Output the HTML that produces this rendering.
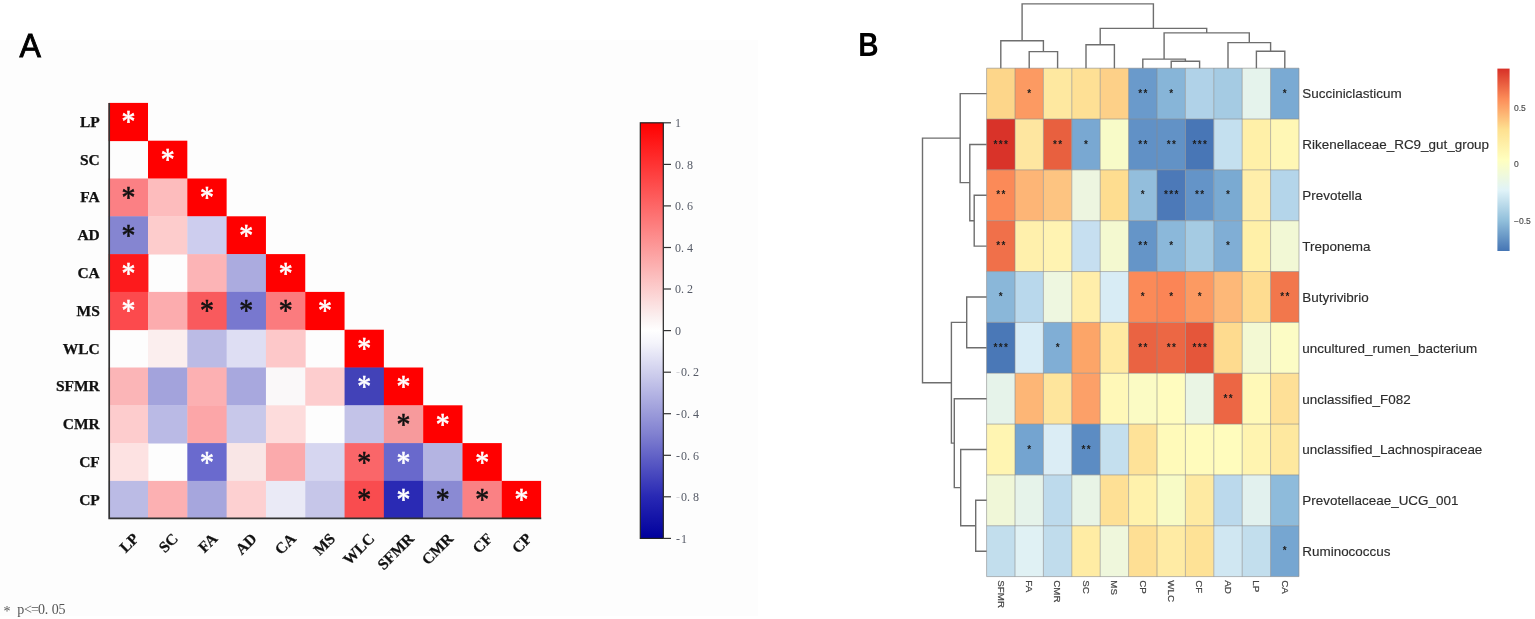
<!DOCTYPE html>
<html lang="en"><head><meta charset="utf-8"><title>Correlation heatmaps</title>
<style>
html,body{margin:0;padding:0;background:#fff;}
body{width:1535px;height:619px;overflow:hidden;}
svg{display:block;filter:blur(0.45px);}
text{font-family:"Liberation Sans",sans-serif;}
.astar text{font-family:"Liberation Serif",serif;font-size:27px;text-anchor:middle;stroke-width:0.5px;}
.albl text{font-family:"Liberation Serif",serif;font-weight:bold;font-size:15.5px;fill:#111;stroke:#111;stroke-width:0.25px;}
.cbat text{font-family:"Liberation Serif",serif;font-size:12px;fill:#555a66;}
.foot{font-family:"Liberation Serif",serif;font-size:14px;fill:#555;}
.pa{font-family:"Liberation Sans",sans-serif;font-size:33.4px;fill:#000;stroke:#000;stroke-width:0.9px;}
.pb{font-family:"Liberation Sans",sans-serif;font-size:33.6px;font-weight:bold;fill:#000;}
.bstar text{font-family:"Liberation Sans",sans-serif;font-size:10px;font-weight:bold;letter-spacing:1.36px;fill:#1c1c1c;}
.brow text{font-size:13.45px;fill:#2c2c2c;stroke:#2c2c2c;stroke-width:0.15px;}
.bcol text{font-size:9.8px;fill:#444;stroke:#444;stroke-width:0.2px;}
.cbbt text{font-size:8.5px;fill:#4a4a4a;stroke:#4a4a4a;stroke-width:0.15px;}
</style></head>
<body>
<svg width="1535" height="619" viewBox="0 0 1535 619">
<rect x="0" y="40" width="758" height="576" fill="#fdfdfd"/>
<g>
<rect x="108.70" y="102.90" width="39.31" height="38.20" fill="#ff0000"/>
<rect x="148.01" y="140.70" width="39.31" height="38.20" fill="#ff0000"/>
<rect x="108.70" y="178.50" width="39.71" height="38.20" fill="#fb8084"/>
<rect x="148.01" y="178.50" width="39.71" height="38.20" fill="#fdbcbd"/>
<rect x="187.32" y="178.50" width="39.31" height="38.20" fill="#ff0000"/>
<rect x="108.70" y="216.30" width="39.71" height="38.20" fill="#8585d1"/>
<rect x="148.01" y="216.30" width="39.71" height="38.20" fill="#fdcccc"/>
<rect x="187.32" y="216.30" width="39.71" height="38.20" fill="#cdcdee"/>
<rect x="226.63" y="216.30" width="39.31" height="38.20" fill="#ff0000"/>
<rect x="108.70" y="254.10" width="39.71" height="38.20" fill="#fd1a1c"/>
<rect x="187.32" y="254.10" width="39.71" height="38.20" fill="#fcb4b6"/>
<rect x="226.63" y="254.10" width="39.71" height="38.20" fill="#ababdf"/>
<rect x="265.94" y="254.10" width="39.31" height="38.20" fill="#ff0000"/>
<rect x="108.70" y="291.90" width="39.71" height="38.20" fill="#fc4a4d"/>
<rect x="148.01" y="291.90" width="39.71" height="38.20" fill="#fcacae"/>
<rect x="187.32" y="291.90" width="39.71" height="38.20" fill="#f95a5d"/>
<rect x="226.63" y="291.90" width="39.71" height="38.20" fill="#7878cf"/>
<rect x="265.94" y="291.90" width="39.71" height="38.20" fill="#fb7b7e"/>
<rect x="305.25" y="291.90" width="39.31" height="38.20" fill="#ff0000"/>
<rect x="148.01" y="329.70" width="39.71" height="38.20" fill="#fbeeee"/>
<rect x="187.32" y="329.70" width="39.71" height="38.20" fill="#bbbbe5"/>
<rect x="226.63" y="329.70" width="39.71" height="38.20" fill="#dedef3"/>
<rect x="265.94" y="329.70" width="39.71" height="38.20" fill="#fdc8c9"/>
<rect x="344.56" y="329.70" width="39.31" height="38.20" fill="#ff0000"/>
<rect x="108.70" y="367.50" width="39.71" height="38.20" fill="#fbb5b7"/>
<rect x="148.01" y="367.50" width="39.71" height="38.20" fill="#a3a3dc"/>
<rect x="187.32" y="367.50" width="39.71" height="38.20" fill="#fcb0b2"/>
<rect x="226.63" y="367.50" width="39.71" height="38.20" fill="#a8a8de"/>
<rect x="265.94" y="367.50" width="39.71" height="38.20" fill="#faf8f9"/>
<rect x="305.25" y="367.50" width="39.71" height="38.20" fill="#fdcdce"/>
<rect x="344.56" y="367.50" width="39.71" height="38.20" fill="#4242b8"/>
<rect x="383.87" y="367.50" width="39.31" height="38.20" fill="#ff0000"/>
<rect x="108.70" y="405.30" width="39.71" height="38.20" fill="#fdcccd"/>
<rect x="148.01" y="405.30" width="39.71" height="38.20" fill="#babae5"/>
<rect x="187.32" y="405.30" width="39.71" height="38.20" fill="#fca6a8"/>
<rect x="226.63" y="405.30" width="39.71" height="38.20" fill="#c8c8ea"/>
<rect x="265.94" y="405.30" width="39.71" height="38.20" fill="#fddcdc"/>
<rect x="344.56" y="405.30" width="39.71" height="38.20" fill="#c3c3e8"/>
<rect x="383.87" y="405.30" width="39.71" height="38.20" fill="#f79a9c"/>
<rect x="423.18" y="405.30" width="39.31" height="38.20" fill="#ff0000"/>
<rect x="108.70" y="443.10" width="39.71" height="38.20" fill="#fde2e2"/>
<rect x="187.32" y="443.10" width="39.71" height="38.20" fill="#6a6ace"/>
<rect x="226.63" y="443.10" width="39.71" height="38.20" fill="#f9e6e6"/>
<rect x="265.94" y="443.10" width="39.71" height="38.20" fill="#fbaaac"/>
<rect x="305.25" y="443.10" width="39.71" height="38.20" fill="#d6d6f0"/>
<rect x="344.56" y="443.10" width="39.71" height="38.20" fill="#fa6669"/>
<rect x="383.87" y="443.10" width="39.71" height="38.20" fill="#6969cc"/>
<rect x="423.18" y="443.10" width="39.71" height="38.20" fill="#b4b4e2"/>
<rect x="462.49" y="443.10" width="39.31" height="38.20" fill="#ff0000"/>
<rect x="108.70" y="480.90" width="39.71" height="37.80" fill="#bbbbe5"/>
<rect x="148.01" y="480.90" width="39.71" height="37.80" fill="#fcb0b2"/>
<rect x="187.32" y="480.90" width="39.71" height="37.80" fill="#a6a6dd"/>
<rect x="226.63" y="480.90" width="39.71" height="37.80" fill="#fdd0d1"/>
<rect x="265.94" y="480.90" width="39.71" height="37.80" fill="#eaeaf6"/>
<rect x="305.25" y="480.90" width="39.71" height="37.80" fill="#c6c6e9"/>
<rect x="344.56" y="480.90" width="39.71" height="37.80" fill="#f94c4f"/>
<rect x="383.87" y="480.90" width="39.71" height="37.80" fill="#2a2ab4"/>
<rect x="423.18" y="480.90" width="39.71" height="37.80" fill="#8a8ad3"/>
<rect x="462.49" y="480.90" width="39.71" height="37.80" fill="#fa8184"/>
<rect x="501.80" y="480.90" width="39.31" height="37.80" fill="#ff0000"/>
</g>
<path d="M109.2 103V518.3H541.2" fill="none" stroke="#333" stroke-width="1.7"/>
<g class="astar">
<text transform="translate(128.4,132.3) scale(1.03,1.17)" fill="#ffffff" stroke="#ffffff" stroke-width="0.35">*</text>
<text transform="translate(167.7,170.1) scale(1.03,1.17)" fill="#ffffff" stroke="#ffffff" stroke-width="0.35">*</text>
<text transform="translate(128.4,207.9) scale(1.03,1.17)" fill="#111111" stroke="#111111" stroke-width="0.35">*</text>
<text transform="translate(207.0,207.9) scale(1.03,1.17)" fill="#ffffff" stroke="#ffffff" stroke-width="0.35">*</text>
<text transform="translate(128.4,245.7) scale(1.03,1.17)" fill="#111111" stroke="#111111" stroke-width="0.35">*</text>
<text transform="translate(246.3,245.7) scale(1.03,1.17)" fill="#ffffff" stroke="#ffffff" stroke-width="0.35">*</text>
<text transform="translate(128.4,283.5) scale(1.03,1.17)" fill="#ffffff" stroke="#ffffff" stroke-width="0.35">*</text>
<text transform="translate(285.6,283.5) scale(1.03,1.17)" fill="#ffffff" stroke="#ffffff" stroke-width="0.35">*</text>
<text transform="translate(128.4,321.3) scale(1.03,1.17)" fill="#ffffff" stroke="#ffffff" stroke-width="0.35">*</text>
<text transform="translate(207.0,321.3) scale(1.03,1.17)" fill="#111111" stroke="#111111" stroke-width="0.35">*</text>
<text transform="translate(246.3,321.3) scale(1.03,1.17)" fill="#111111" stroke="#111111" stroke-width="0.35">*</text>
<text transform="translate(285.6,321.3) scale(1.03,1.17)" fill="#111111" stroke="#111111" stroke-width="0.35">*</text>
<text transform="translate(324.9,321.3) scale(1.03,1.17)" fill="#ffffff" stroke="#ffffff" stroke-width="0.35">*</text>
<text transform="translate(364.2,359.1) scale(1.03,1.17)" fill="#ffffff" stroke="#ffffff" stroke-width="0.35">*</text>
<text transform="translate(364.2,396.9) scale(1.03,1.17)" fill="#ffffff" stroke="#ffffff" stroke-width="0.35">*</text>
<text transform="translate(403.5,396.9) scale(1.03,1.17)" fill="#ffffff" stroke="#ffffff" stroke-width="0.35">*</text>
<text transform="translate(403.5,434.7) scale(1.03,1.17)" fill="#111111" stroke="#111111" stroke-width="0.35">*</text>
<text transform="translate(442.8,434.7) scale(1.03,1.17)" fill="#ffffff" stroke="#ffffff" stroke-width="0.35">*</text>
<text transform="translate(207.0,472.5) scale(1.03,1.17)" fill="#ffffff" stroke="#ffffff" stroke-width="0.35">*</text>
<text transform="translate(364.2,472.5) scale(1.03,1.17)" fill="#111111" stroke="#111111" stroke-width="0.35">*</text>
<text transform="translate(403.5,472.5) scale(1.03,1.17)" fill="#ffffff" stroke="#ffffff" stroke-width="0.35">*</text>
<text transform="translate(482.1,472.5) scale(1.03,1.17)" fill="#ffffff" stroke="#ffffff" stroke-width="0.35">*</text>
<text transform="translate(364.2,510.3) scale(1.03,1.17)" fill="#111111" stroke="#111111" stroke-width="0.35">*</text>
<text transform="translate(403.5,510.3) scale(1.03,1.17)" fill="#ffffff" stroke="#ffffff" stroke-width="0.35">*</text>
<text transform="translate(442.8,510.3) scale(1.03,1.17)" fill="#111111" stroke="#111111" stroke-width="0.35">*</text>
<text transform="translate(482.1,510.3) scale(1.03,1.17)" fill="#111111" stroke="#111111" stroke-width="0.35">*</text>
<text transform="translate(521.5,510.3) scale(1.03,1.17)" fill="#ffffff" stroke="#ffffff" stroke-width="0.35">*</text>
</g>
<g class="albl" text-anchor="end">
<text x="99.8" y="126.7">LP</text>
<text x="99.8" y="164.5">SC</text>
<text x="99.8" y="202.3">FA</text>
<text x="99.8" y="240.1">AD</text>
<text x="99.8" y="277.9">CA</text>
<text x="99.8" y="315.7">MS</text>
<text x="99.8" y="353.5">WLC</text>
<text x="99.8" y="391.3">SFMR</text>
<text x="99.8" y="429.1">CMR</text>
<text x="99.8" y="466.9">CF</text>
<text x="99.8" y="504.7">CP</text>
</g>
<g class="albl" text-anchor="end">
<text transform="translate(139.7,539.6) rotate(-45)">LP</text>
<text transform="translate(179.0,539.6) rotate(-45)">SC</text>
<text transform="translate(218.3,539.6) rotate(-45)">FA</text>
<text transform="translate(257.6,539.6) rotate(-45)">AD</text>
<text transform="translate(296.9,539.6) rotate(-45)">CA</text>
<text transform="translate(336.2,539.6) rotate(-45)">MS</text>
<text transform="translate(375.5,539.6) rotate(-45)">WLC</text>
<text transform="translate(414.8,539.6) rotate(-45)">SFMR</text>
<text transform="translate(454.1,539.6) rotate(-45)">CMR</text>
<text transform="translate(493.4,539.6) rotate(-45)">CF</text>
<text transform="translate(532.8,539.6) rotate(-45)">CP</text>
</g>
<defs><linearGradient id="cba" x1="0" y1="0" x2="0" y2="1">
<stop offset="0" stop-color="#ff0000"/><stop offset="0.47" stop-color="#fbf1f1"/><stop offset="0.5" stop-color="#ffffff"/>
<stop offset="0.53" stop-color="#f4f4fb"/><stop offset="0.75" stop-color="#8080d0"/><stop offset="0.9" stop-color="#2828b4"/><stop offset="1" stop-color="#00009c"/></linearGradient>
<linearGradient id="cbb" x1="0" y1="0" x2="0" y2="1">
<stop offset="0" stop-color="#d73027"/><stop offset="0.1667" stop-color="#fc8d59"/><stop offset="0.3333" stop-color="#fee090"/>
<stop offset="0.5" stop-color="#ffffbf"/><stop offset="0.6667" stop-color="#e0f3f8"/><stop offset="0.8333" stop-color="#91bfdb"/><stop offset="1" stop-color="#4575b4"/></linearGradient></defs>
<rect x="640.3" y="122.8" width="23" height="415.6" fill="url(#cba)" stroke="#222" stroke-width="1.2"/>
<g class="cbat">
<path d="M663.5 122.8H671" stroke="#333" stroke-width="1.2"/>
<text x="675" y="127.0">1</text>
<path d="M663.5 164.4H671" stroke="#333" stroke-width="1.2"/>
<text x="675 681 687" y="168.6">0.8</text>
<path d="M663.5 205.9H671" stroke="#333" stroke-width="1.2"/>
<text x="675 681 687" y="210.1">0.6</text>
<path d="M663.5 247.5H671" stroke="#333" stroke-width="1.2"/>
<text x="675 681 687" y="251.7">0.4</text>
<path d="M663.5 289.0H671" stroke="#333" stroke-width="1.2"/>
<text x="675 681 687" y="293.2">0.2</text>
<path d="M663.5 330.6H671" stroke="#333" stroke-width="1.2"/>
<text x="675" y="334.8">0</text>
<path d="M663.5 372.2H671" stroke="#333" stroke-width="1.2"/>
<text x="676 681 687 693" y="376.4"><tspan fill="#d4d4d8">-</tspan>0.2</text>
<path d="M663.5 413.7H671" stroke="#333" stroke-width="1.2"/>
<text x="676 681 687 693" y="417.9">-0.4</text>
<path d="M663.5 455.3H671" stroke="#333" stroke-width="1.2"/>
<text x="676 681 687 693" y="459.5">-0.6</text>
<path d="M663.5 496.8H671" stroke="#333" stroke-width="1.2"/>
<text x="676 681 687 693" y="501.0"><tspan fill="#d4d4d8">-</tspan>0.8</text>
<path d="M663.5 538.4H671" stroke="#333" stroke-width="1.2"/>
<text x="676 681" y="542.6">-1</text>
</g>
<text class="foot" x="3.4 10.3 17.2 24.1 31.0 37.9 44.8 51.7 58.6" y="615.6 614.2">* p&lt;=0.05</text>
<text class="pa" transform="translate(19.6,56.6) scale(0.96,1)">A</text>
<text class="pb" transform="translate(858.2,56.2) scale(0.84,1)">B</text>
<g>
<rect x="986.60" y="68.20" width="28.40" height="50.84" fill="#fdd68a"/>
<rect x="1015.00" y="68.20" width="28.40" height="50.84" fill="#fc9a62"/>
<rect x="1043.40" y="68.20" width="28.40" height="50.84" fill="#fee8a0"/>
<rect x="1071.80" y="68.20" width="28.40" height="50.84" fill="#fee095"/>
<rect x="1100.20" y="68.20" width="28.40" height="50.84" fill="#fdd088"/>
<rect x="1128.60" y="68.20" width="28.40" height="50.84" fill="#6a9acb"/>
<rect x="1157.00" y="68.20" width="28.40" height="50.84" fill="#87b5d8"/>
<rect x="1185.40" y="68.20" width="28.40" height="50.84" fill="#b0d2e8"/>
<rect x="1213.80" y="68.20" width="28.40" height="50.84" fill="#a5cbe3"/>
<rect x="1242.20" y="68.20" width="28.40" height="50.84" fill="#e5f3ec"/>
<rect x="1270.60" y="68.20" width="28.40" height="50.84" fill="#7aaad3"/>
<rect x="986.60" y="119.04" width="28.40" height="50.84" fill="#d93329"/>
<rect x="1015.00" y="119.04" width="28.40" height="50.84" fill="#fee6a0"/>
<rect x="1043.40" y="119.04" width="28.40" height="50.84" fill="#e8603f"/>
<rect x="1071.80" y="119.04" width="28.40" height="50.84" fill="#79a8d2"/>
<rect x="1100.20" y="119.04" width="28.40" height="50.84" fill="#f8fbc8"/>
<rect x="1128.60" y="119.04" width="28.40" height="50.84" fill="#6191c6"/>
<rect x="1157.00" y="119.04" width="28.40" height="50.84" fill="#6292c6"/>
<rect x="1185.40" y="119.04" width="28.40" height="50.84" fill="#4876b6"/>
<rect x="1213.80" y="119.04" width="28.40" height="50.84" fill="#c4e0ef"/>
<rect x="1242.20" y="119.04" width="28.40" height="50.84" fill="#fff0a8"/>
<rect x="1270.60" y="119.04" width="28.40" height="50.84" fill="#fff7b5"/>
<rect x="986.60" y="169.88" width="28.40" height="50.84" fill="#fb8a58"/>
<rect x="1015.00" y="169.88" width="28.40" height="50.84" fill="#fdb576"/>
<rect x="1043.40" y="169.88" width="28.40" height="50.84" fill="#fdc481"/>
<rect x="1071.80" y="169.88" width="28.40" height="50.84" fill="#edf5e0"/>
<rect x="1100.20" y="169.88" width="28.40" height="50.84" fill="#fedd90"/>
<rect x="1128.60" y="169.88" width="28.40" height="50.84" fill="#93bedc"/>
<rect x="1157.00" y="169.88" width="28.40" height="50.84" fill="#4c79b8"/>
<rect x="1185.40" y="169.88" width="28.40" height="50.84" fill="#6494c8"/>
<rect x="1213.80" y="169.88" width="28.40" height="50.84" fill="#7aaad2"/>
<rect x="1242.20" y="169.88" width="28.40" height="50.84" fill="#ffeeaa"/>
<rect x="1270.60" y="169.88" width="28.40" height="50.84" fill="#b4d5ea"/>
<rect x="986.60" y="220.72" width="28.40" height="50.84" fill="#f0704a"/>
<rect x="1015.00" y="220.72" width="28.40" height="50.84" fill="#fff0ac"/>
<rect x="1043.40" y="220.72" width="28.40" height="50.84" fill="#fff3b2"/>
<rect x="1071.80" y="220.72" width="28.40" height="50.84" fill="#c6dff0"/>
<rect x="1100.20" y="220.72" width="28.40" height="50.84" fill="#f4f9d0"/>
<rect x="1128.60" y="220.72" width="28.40" height="50.84" fill="#6595c8"/>
<rect x="1157.00" y="220.72" width="28.40" height="50.84" fill="#8bb8da"/>
<rect x="1185.40" y="220.72" width="28.40" height="50.84" fill="#a5cbe3"/>
<rect x="1213.80" y="220.72" width="28.40" height="50.84" fill="#80aed5"/>
<rect x="1242.20" y="220.72" width="28.40" height="50.84" fill="#fff0a8"/>
<rect x="1270.60" y="220.72" width="28.40" height="50.84" fill="#f2f8d5"/>
<rect x="986.60" y="271.56" width="28.40" height="50.84" fill="#8ab7d9"/>
<rect x="1015.00" y="271.56" width="28.40" height="50.84" fill="#b9d8ec"/>
<rect x="1043.40" y="271.56" width="28.40" height="50.84" fill="#eef7e0"/>
<rect x="1071.80" y="271.56" width="28.40" height="50.84" fill="#ffeeaa"/>
<rect x="1100.20" y="271.56" width="28.40" height="50.84" fill="#d8ecf5"/>
<rect x="1128.60" y="271.56" width="28.40" height="50.84" fill="#fb8a58"/>
<rect x="1157.00" y="271.56" width="28.40" height="50.84" fill="#fb8556"/>
<rect x="1185.40" y="271.56" width="28.40" height="50.84" fill="#fc9a62"/>
<rect x="1213.80" y="271.56" width="28.40" height="50.84" fill="#fdb878"/>
<rect x="1242.20" y="271.56" width="28.40" height="50.84" fill="#fedc90"/>
<rect x="1270.60" y="271.56" width="28.40" height="50.84" fill="#f2774c"/>
<rect x="986.60" y="322.40" width="28.40" height="50.84" fill="#4a78b7"/>
<rect x="1015.00" y="322.40" width="28.40" height="50.84" fill="#d8ecf6"/>
<rect x="1043.40" y="322.40" width="28.40" height="50.84" fill="#80aed5"/>
<rect x="1071.80" y="322.40" width="28.40" height="50.84" fill="#fca568"/>
<rect x="1100.20" y="322.40" width="28.40" height="50.84" fill="#ffeaa2"/>
<rect x="1128.60" y="322.40" width="28.40" height="50.84" fill="#ea6342"/>
<rect x="1157.00" y="322.40" width="28.40" height="50.84" fill="#ec6744"/>
<rect x="1185.40" y="322.40" width="28.40" height="50.84" fill="#e5563a"/>
<rect x="1213.80" y="322.40" width="28.40" height="50.84" fill="#fedb8f"/>
<rect x="1242.20" y="322.40" width="28.40" height="50.84" fill="#f3f9d3"/>
<rect x="1270.60" y="322.40" width="28.40" height="50.84" fill="#fcfcc5"/>
<rect x="986.60" y="373.24" width="28.40" height="50.84" fill="#e6f3ea"/>
<rect x="1015.00" y="373.24" width="28.40" height="50.84" fill="#fdb676"/>
<rect x="1043.40" y="373.24" width="28.40" height="50.84" fill="#fee59c"/>
<rect x="1071.80" y="373.24" width="28.40" height="50.84" fill="#fca068"/>
<rect x="1100.20" y="373.24" width="28.40" height="50.84" fill="#fff8b8"/>
<rect x="1128.60" y="373.24" width="28.40" height="50.84" fill="#fbfbc4"/>
<rect x="1157.00" y="373.24" width="28.40" height="50.84" fill="#fffcbf"/>
<rect x="1185.40" y="373.24" width="28.40" height="50.84" fill="#eaf5e4"/>
<rect x="1213.80" y="373.24" width="28.40" height="50.84" fill="#ec6644"/>
<rect x="1242.20" y="373.24" width="28.40" height="50.84" fill="#fff9b8"/>
<rect x="1270.60" y="373.24" width="28.40" height="50.84" fill="#fee097"/>
<rect x="986.60" y="424.08" width="28.40" height="50.84" fill="#fff5b2"/>
<rect x="1015.00" y="424.08" width="28.40" height="50.84" fill="#74a4d0"/>
<rect x="1043.40" y="424.08" width="28.40" height="50.84" fill="#dbedf5"/>
<rect x="1071.80" y="424.08" width="28.40" height="50.84" fill="#5c8cc3"/>
<rect x="1100.20" y="424.08" width="28.40" height="50.84" fill="#c4dfee"/>
<rect x="1128.60" y="424.08" width="28.40" height="50.84" fill="#fee298"/>
<rect x="1157.00" y="424.08" width="28.40" height="50.84" fill="#fffaba"/>
<rect x="1185.40" y="424.08" width="28.40" height="50.84" fill="#fffbbc"/>
<rect x="1213.80" y="424.08" width="28.40" height="50.84" fill="#fffcbd"/>
<rect x="1242.20" y="424.08" width="28.40" height="50.84" fill="#fff4b0"/>
<rect x="1270.60" y="424.08" width="28.40" height="50.84" fill="#fee89f"/>
<rect x="986.60" y="474.92" width="28.40" height="50.84" fill="#f0f7d8"/>
<rect x="1015.00" y="474.92" width="28.40" height="50.84" fill="#e6f3ea"/>
<rect x="1043.40" y="474.92" width="28.40" height="50.84" fill="#bddaec"/>
<rect x="1071.80" y="474.92" width="28.40" height="50.84" fill="#e8f4e6"/>
<rect x="1100.20" y="474.92" width="28.40" height="50.84" fill="#fee095"/>
<rect x="1128.60" y="474.92" width="28.40" height="50.84" fill="#fff2ac"/>
<rect x="1157.00" y="474.92" width="28.40" height="50.84" fill="#f8fbc6"/>
<rect x="1185.40" y="474.92" width="28.40" height="50.84" fill="#feeaa2"/>
<rect x="1213.80" y="474.92" width="28.40" height="50.84" fill="#bbd9ec"/>
<rect x="1242.20" y="474.92" width="28.40" height="50.84" fill="#e2f1ee"/>
<rect x="1270.60" y="474.92" width="28.40" height="50.84" fill="#8ebbdb"/>
<rect x="986.60" y="525.76" width="28.40" height="50.84" fill="#c2deed"/>
<rect x="1015.00" y="525.76" width="28.40" height="50.84" fill="#e0f1f4"/>
<rect x="1043.40" y="525.76" width="28.40" height="50.84" fill="#c0dcec"/>
<rect x="1071.80" y="525.76" width="28.40" height="50.84" fill="#ffeca4"/>
<rect x="1100.20" y="525.76" width="28.40" height="50.84" fill="#eff7dc"/>
<rect x="1128.60" y="525.76" width="28.40" height="50.84" fill="#fedf94"/>
<rect x="1157.00" y="525.76" width="28.40" height="50.84" fill="#ffeba4"/>
<rect x="1185.40" y="525.76" width="28.40" height="50.84" fill="#fee296"/>
<rect x="1213.80" y="525.76" width="28.40" height="50.84" fill="#d0e7f2"/>
<rect x="1242.20" y="525.76" width="28.40" height="50.84" fill="#c2deed"/>
<rect x="1270.60" y="525.76" width="28.40" height="50.84" fill="#76a6d1"/>
</g>
<path d="M986.60 68.20V576.60 M1015.00 68.20V576.60 M1043.40 68.20V576.60 M1071.80 68.20V576.60 M1100.20 68.20V576.60 M1128.60 68.20V576.60 M1157.00 68.20V576.60 M1185.40 68.20V576.60 M1213.80 68.20V576.60 M1242.20 68.20V576.60 M1270.60 68.20V576.60 M1299.00 68.20V576.60 M986.60 68.20H1299.00 M986.60 119.04H1299.00 M986.60 169.88H1299.00 M986.60 220.72H1299.00 M986.60 271.56H1299.00 M986.60 322.40H1299.00 M986.60 373.24H1299.00 M986.60 424.08H1299.00 M986.60 474.92H1299.00 M986.60 525.76H1299.00 M986.60 576.60H1299.00" fill="none" stroke="#8a8a8a" stroke-opacity="0.75" stroke-width="0.8"/>
<g class="bstar" text-anchor="middle">
<text x="1029.9" y="96.7">*</text>
<text x="1143.5" y="96.7">**</text>
<text x="1171.9" y="96.7">*</text>
<text x="1285.5" y="96.7">*</text>
<text x="1001.5" y="147.6">***</text>
<text x="1058.3" y="147.6">**</text>
<text x="1086.7" y="147.6">*</text>
<text x="1143.5" y="147.6">**</text>
<text x="1171.9" y="147.6">**</text>
<text x="1200.3" y="147.6">***</text>
<text x="1001.5" y="198.4">**</text>
<text x="1143.5" y="198.4">*</text>
<text x="1171.9" y="198.4">***</text>
<text x="1200.3" y="198.4">**</text>
<text x="1228.7" y="198.4">*</text>
<text x="1001.5" y="249.2">**</text>
<text x="1143.5" y="249.2">**</text>
<text x="1171.9" y="249.2">*</text>
<text x="1228.7" y="249.2">*</text>
<text x="1001.5" y="300.1">*</text>
<text x="1143.5" y="300.1">*</text>
<text x="1171.9" y="300.1">*</text>
<text x="1200.3" y="300.1">*</text>
<text x="1285.5" y="300.1">**</text>
<text x="1001.5" y="350.9">***</text>
<text x="1058.3" y="350.9">*</text>
<text x="1143.5" y="350.9">**</text>
<text x="1171.9" y="350.9">**</text>
<text x="1200.3" y="350.9">***</text>
<text x="1228.7" y="401.8">**</text>
<text x="1029.9" y="452.6">*</text>
<text x="1086.7" y="452.6">**</text>
<text x="1285.5" y="554.3">*</text>
</g>
<g class="brow">
<text x="1302.3" y="98.4">Succiniclasticum</text>
<text x="1302.3" y="149.3">Rikenellaceae_RC9_gut_group</text>
<text x="1302.3" y="200.1">Prevotella</text>
<text x="1302.3" y="250.9">Treponema</text>
<text x="1302.3" y="301.8">Butyrivibrio</text>
<text x="1302.3" y="352.6">uncultured_rumen_bacterium</text>
<text x="1302.3" y="403.5">unclassified_F082</text>
<text x="1302.3" y="454.3">unclassified_Lachnospiraceae</text>
<text x="1302.3" y="505.1">Prevotellaceae_UCG_001</text>
<text x="1302.3" y="556.0">Ruminococcus</text>
</g>
<g class="bcol">
<text transform="translate(997.5,580.3) rotate(90)">SFMR</text>
<text transform="translate(1025.9,580.3) rotate(90)">FA</text>
<text transform="translate(1054.3,580.3) rotate(90)">CMR</text>
<text transform="translate(1082.7,580.3) rotate(90)">SC</text>
<text transform="translate(1111.1,580.3) rotate(90)">MS</text>
<text transform="translate(1139.5,580.3) rotate(90)">CP</text>
<text transform="translate(1167.9,580.3) rotate(90)">WLC</text>
<text transform="translate(1196.3,580.3) rotate(90)">CF</text>
<text transform="translate(1224.7,580.3) rotate(90)">AD</text>
<text transform="translate(1253.1,580.3) rotate(90)">LP</text>
<text transform="translate(1281.5,580.3) rotate(90)">CA</text>
</g>
<path d="M1029.2 68.2V51.6H1057.6V68.2 M1000.8 68.2V40.8H1043.4V51.6 M1086.0 68.2V44.7H1114.4V68.2 M1171.2 68.2V61.3H1199.6V68.2 M1142.8 68.2V59.1H1185.4V61.3 M1256.4 68.2V51.2H1284.8V68.2 M1228.0 68.2V42.6H1270.6V51.2 M1164.1 59.1V32.9H1249.3V42.6 M1100.2 44.7V28.4H1206.7V32.9 M1022.1 40.8V3.9H1153.4V28.4 M986.6 195.3H974.2V246.1H986.6 M986.6 144.5H969.8V220.7H974.2 M986.6 93.6H960.2V182.6H969.8 M986.6 297.0H966.7V347.8H986.6 M986.6 500.3H975.7V551.2H986.6 M986.6 449.5H960.7V525.8H975.7 M986.6 398.7H954.3V487.6H960.7 M966.7 322.4H951.4V443.1H954.3 M960.2 138.1H922.5V382.8H951.4" fill="none" stroke="#6e6e6e" stroke-width="1.4"/>
<rect x="1497.4" y="68.6" width="12.2" height="182.4" fill="url(#cbb)"/>
<g class="cbbt">
<text x="1514" y="111.2">0.5</text>
<text x="1514" y="167.2">0</text>
<text x="1514" y="224.4">−0.5</text>
</g>
</svg>
</body></html>
